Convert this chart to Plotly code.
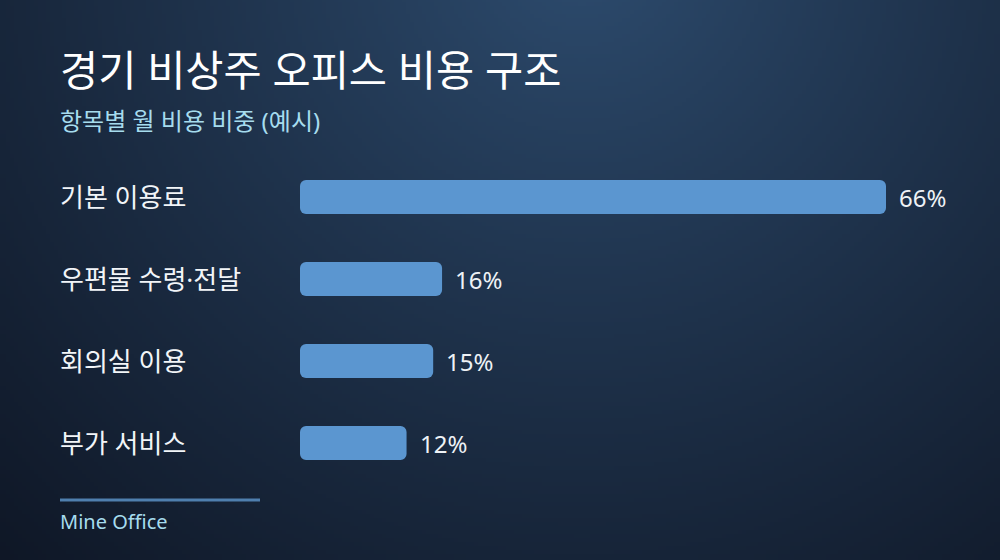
import base64
import math
import struct
import zlib

import plotly.graph_objects as go

# chart data
categories = ["기본 이용료", "우편물 수령·전달", "회의실 이용", "부가 서비스"]
shares = [66, 16, 15, 12]

title_text = "경기 비상주 오피스 비용 구조"
subtitle_text = "항목별 월 비용 비중 (예시)"
source_text = "Mine Office"

W, H = 1000, 560
FONT = "Noto Sans, Noto Sans CJK KR, sans-serif"
LEFT = 0.058


# radial gradient background, built as a tiny png
def gradient_png(w, h):
    c0 = (46, 77, 112)   # glow at top
    c1 = (15, 23, 38)    # dark edges
    cx, cy, r = 0.58 * w, -0.10 * h, 0.85 * w
    rows = b""
    for j in range(h):
        row = b"\x00"
        for i in range(w):
            t = min(1.0, math.hypot(i - cx, j - cy) / r) ** 0.9
            row += bytes(int(c0[k] + (c1[k] - c0[k]) * t) for k in range(3))
        rows += row

    def chunk(tag, data):
        c = struct.pack(">I", len(data)) + tag + data
        return c + struct.pack(">I", zlib.crc32(tag + data) & 0xFFFFFFFF)

    png = b"\x89PNG\r\n\x1a\n"
    png += chunk(b"IHDR", struct.pack(">IIBBBBB", w, h, 8, 2, 0, 0, 0))
    png += chunk(b"IDAT", zlib.compress(rows, 9))
    png += chunk(b"IEND", b"")
    return "data:image/png;base64," + base64.b64encode(png).decode()


bg = gradient_png(250, 140)

# explicit base -> plotly rounds both ends of the bar
fig = go.Figure(
    go.Bar(
        x=shares,
        y=categories,
        base=[0] * len(shares),
        orientation="h",
        marker=dict(color="#5b96d0", line_width=0, cornerradius=6),
        width=0.415,
        hoverinfo="skip",
    )
)

# category labels at left, value labels after each bar
for cat, val in zip(categories, shares):
    fig.add_annotation(
        x=LEFT, xref="paper", y=cat, yref="y",
        text=cat, showarrow=False, xanchor="left", yanchor="middle",
        font=dict(family=FONT, size=26, color="#f2f5f8"),
    )
    fig.add_annotation(
        x=val, xref="x", y=cat, yref="y",
        text=f"{val}%", showarrow=False, xanchor="left", yanchor="middle",
        xshift=11,
        font=dict(family=FONT, size=24, color="#eef2f6"),
    )

fig.add_annotation(
    x=LEFT, xref="paper", y=1 - 70 / H, yref="paper",
    text=title_text, showarrow=False, xanchor="left", yanchor="middle",
    font=dict(family=FONT, size=41.5, color="#ffffff"),
)
fig.add_annotation(
    x=LEFT, xref="paper", y=1 - 120 / H, yref="paper",
    text=subtitle_text, showarrow=False, xanchor="left", yanchor="middle",
    font=dict(family=FONT, size=24, color="#a6dcee"),
)
fig.add_annotation(
    x=LEFT, xref="paper", y=1 - 521 / H, yref="paper",
    text=source_text, showarrow=False, xanchor="left", yanchor="middle",
    font=dict(family=FONT, size=20, color="#a6dcee"),
)
fig.add_shape(
    type="line", xref="paper", yref="paper",
    x0=0.06, x1=0.26, y0=1 - 500 / H, y1=1 - 500 / H,
    line=dict(color="#4f7fae", width=3),
)

fig.update_layout(
    width=W,
    height=H,
    margin=dict(l=0, r=0, t=0, b=0),
    paper_bgcolor="#0f1726",
    plot_bgcolor="rgba(0,0,0,0)",
    showlegend=False,
    images=[dict(
        source=bg, xref="paper", yref="paper", x=0, y=1,
        sizex=1, sizey=1, sizing="stretch", layer="below",
        xanchor="left", yanchor="top",
    )],
    xaxis=dict(
        domain=[0.300, 0.886], range=[0, 66],
        visible=False, fixedrange=True,
    ),
    # 4 rows, 82px apart, centers at y=197..443
    yaxis=dict(
        domain=[1 - 484 / H, 1 - 156 / H],
        range=[3.5, -0.5], type="category",
        visible=False, fixedrange=True,
    ),
)

fig.write_html(
    "out.html",
    config={"displayModeBar": False},
    post_script="document.body.style.margin='0';",
)
